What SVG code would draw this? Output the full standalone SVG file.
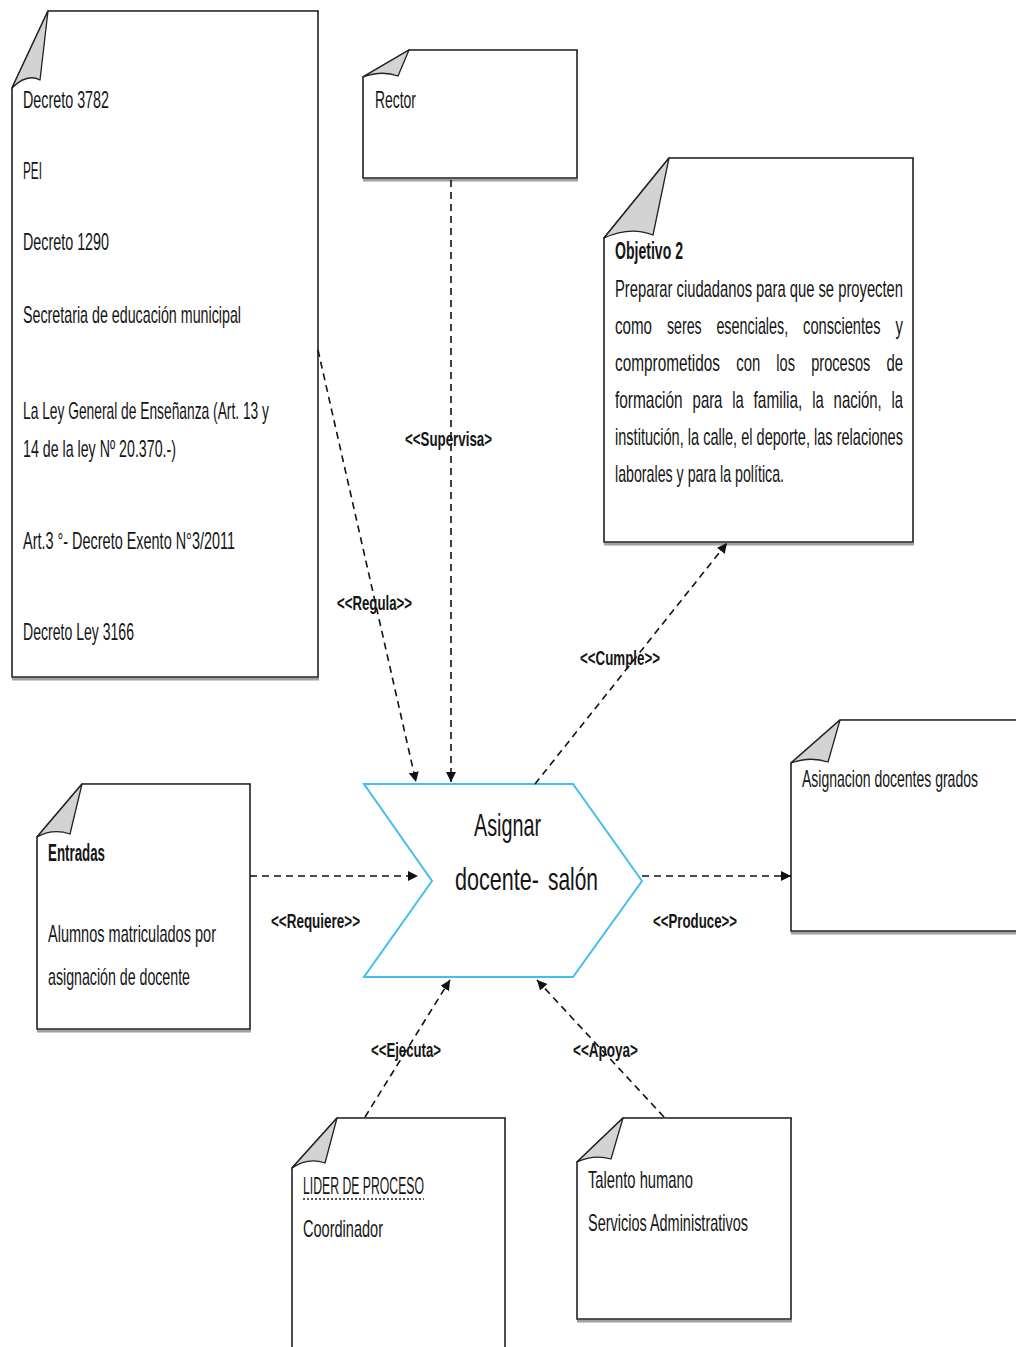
<svg xmlns="http://www.w3.org/2000/svg" width="1016" height="1347" viewBox="0 0 1016 1347">
  <style>
    .doc { fill: #ffffff; stroke: #222222; stroke-width: 1.6; }
    .sh { fill: none; stroke: #a0a0a0; stroke-width: 3; }
    .fold { fill: #d3d3d3; stroke: #222222; stroke-width: 1.3; stroke-linejoin: round; }
    .t { font-family: "Liberation Sans Narrow", "Liberation Sans", Arial, sans-serif; font-size: 18px; fill: #151515; }
    .b { font-weight: bold; }
    .lbl { font-family: "Liberation Sans Narrow", "Liberation Sans", Arial, sans-serif; font-size: 15px; font-weight: bold; fill: #151515; }
    .big { font-family: "Liberation Sans Narrow", "Liberation Sans", Arial, sans-serif; font-size: 24px; fill: #151515; }
    .con { fill: none; stroke: #111111; stroke-width: 1.6; stroke-dasharray: 7 5; marker-end: url(#arr); }
  </style>
  <defs>
    <marker id="arr" viewBox="0 0 10 10" refX="10" refY="5" markerWidth="10" markerHeight="10" markerUnits="userSpaceOnUse" orient="auto">
      <path d="M0,0 L10,5 L0,10 Z" fill="#111111"/>
    </marker>
  </defs>

  <rect width="1016" height="1347" fill="#ffffff"/>

  <!-- legal references -->
  <g id="node-normas">
    <path class="sh" d="M48,12 L319,12 M12,679 L319,679"/>
    <path class="doc" d="M12,88 L48,11 L318,11 L318,677 L12,677 Z"/>
    <path class="fold" d="M48,11 L40,80 Q27,73 12,88 Z"/>
    <!-- tall condensed lettering: y values are baseline / 1.3 -->
    <g transform="scale(1,1.3)">
      <text class="t" x="23" y="83.08" textLength="86" lengthAdjust="spacingAndGlyphs">Decreto 3782</text>
      <text class="t" x="23" y="137.69" textLength="19" lengthAdjust="spacingAndGlyphs">PEI</text>
      <text class="t" x="23" y="192.31" textLength="86" lengthAdjust="spacingAndGlyphs">Decreto 1290</text>
      <text class="t" x="23" y="248.46" textLength="218" lengthAdjust="spacingAndGlyphs">Secretaria de educación municipal</text>
      <text class="t" x="23" y="322.31" textLength="246" lengthAdjust="spacingAndGlyphs">La Ley General de Enseñanza (Art. 13 y</text>
      <text class="t" x="23" y="351.54" textLength="153" lengthAdjust="spacingAndGlyphs">14 de la ley Nº 20.370.-)</text>
      <text class="t" x="23" y="422.31" textLength="212" lengthAdjust="spacingAndGlyphs">Art.3 °- Decreto Exento N°3/2011</text>
      <text class="t" x="23" y="492.31" textLength="111" lengthAdjust="spacingAndGlyphs">Decreto Ley 3166</text>
    </g>
  </g>

  <!-- supervisor -->
  <g id="node-rector">
    <path class="sh" d="M409,51 L578,51 M363,180 L578,180"/>
    <path class="doc" d="M363,77 L409,50 L577,50 L577,178 L363,178 Z"/>
    <path class="fold" d="M409,50 L398,76 Q382,70 363,77 Z"/>
    <g transform="scale(1,1.3)">
      <text class="t" x="375" y="83.08" textLength="41" lengthAdjust="spacingAndGlyphs">Rector</text>
    </g>
  </g>

  <!-- objective -->
  <g id="node-objetivo">
    <path class="sh" d="M669,159 L914,159 M604,544 L914,544"/>
    <path class="doc" d="M604,238 L669,158 L913,158 L913,542 L604,542 Z"/>
    <path class="fold" d="M669,158 L653,235 Q630,226 604,238 Z"/>
    <g transform="scale(1,1.3)">
      <text class="t b" x="615" y="199.23" textLength="68" lengthAdjust="spacingAndGlyphs">Objetivo 2</text>
      <text class="t" x="615" y="228.46" textLength="288" lengthAdjust="spacingAndGlyphs">Preparar ciudadanos para que se proyecten</text>
      <!-- justified lines: one text per word -->
      <text class="t" x="615" y="256.92" textLength="37" lengthAdjust="spacingAndGlyphs">como</text>
      <text class="t" x="667" y="256.92" textLength="34.6" lengthAdjust="spacingAndGlyphs">seres</text>
      <text class="t" x="716.4" y="256.92" textLength="71.8" lengthAdjust="spacingAndGlyphs">esenciales,</text>
      <text class="t" x="803.1" y="256.92" textLength="77.5" lengthAdjust="spacingAndGlyphs">conscientes</text>
      <text class="t" x="895.5" y="256.92" textLength="7.4" lengthAdjust="spacingAndGlyphs">y</text>
      <text class="t" x="615" y="285.38" textLength="105" lengthAdjust="spacingAndGlyphs">comprometidos</text>
      <text class="t" x="736.2" y="285.38" textLength="24" lengthAdjust="spacingAndGlyphs">con</text>
      <text class="t" x="776.3" y="285.38" textLength="18.7" lengthAdjust="spacingAndGlyphs">los</text>
      <text class="t" x="811.2" y="285.38" textLength="59.1" lengthAdjust="spacingAndGlyphs">procesos</text>
      <text class="t" x="886.4" y="285.38" textLength="16.6" lengthAdjust="spacingAndGlyphs">de</text>
      <text class="t" x="615" y="313.85" textLength="67.7" lengthAdjust="spacingAndGlyphs">formación</text>
      <text class="t" x="692.6" y="313.85" textLength="29.8" lengthAdjust="spacingAndGlyphs">para</text>
      <text class="t" x="732.2" y="313.85" textLength="11.5" lengthAdjust="spacingAndGlyphs">la</text>
      <text class="t" x="753.6" y="313.85" textLength="48.8" lengthAdjust="spacingAndGlyphs">familia,</text>
      <text class="t" x="812.3" y="313.85" textLength="11.5" lengthAdjust="spacingAndGlyphs">la</text>
      <text class="t" x="833.6" y="313.85" textLength="48.1" lengthAdjust="spacingAndGlyphs">nación,</text>
      <text class="t" x="891.5" y="313.85" textLength="11.5" lengthAdjust="spacingAndGlyphs">la</text>
      <text class="t" x="615" y="342.31" textLength="288" lengthAdjust="spacingAndGlyphs">institución, la calle, el deporte, las relaciones</text>
      <text class="t" x="615" y="370.77" textLength="169" lengthAdjust="spacingAndGlyphs">laborales y para la política.</text>
    </g>
  </g>

  <!-- process -->
  <g id="node-proceso">
    <line x1="364" y1="785" x2="573" y2="785" stroke="#8fdaf7" stroke-width="4"/>
    <path d="M364,784 L573,784 L642,881 L573,977 L364,977 L432,881 Z" fill="#ffffff" stroke="#45bdee" stroke-width="2"/>
    <g transform="scale(1,1.3)">
      <text class="big" x="474" y="643.08" textLength="67" lengthAdjust="spacingAndGlyphs">Asignar</text>
      <text class="big" x="455" y="684.62" textLength="84" lengthAdjust="spacingAndGlyphs">docente-</text>
      <text class="big" x="548" y="684.62" textLength="50" lengthAdjust="spacingAndGlyphs">salón</text>
    </g>
  </g>

  <!-- inputs -->
  <g id="node-entradas">
    <path class="sh" d="M82,785 L251,785 M37,1031 L251,1031"/>
    <path class="doc" d="M37,837 L82,784 L250,784 L250,1029 L37,1029 Z"/>
    <path class="fold" d="M82,784 L70,834 Q53,828 37,837 Z"/>
    <g transform="scale(1,1.3)">
      <text class="t b" x="48" y="662.31" textLength="57" lengthAdjust="spacingAndGlyphs">Entradas</text>
      <text class="t" x="48" y="724.62" textLength="168" lengthAdjust="spacingAndGlyphs">Alumnos matriculados por</text>
      <text class="t" x="48" y="757.69" textLength="142" lengthAdjust="spacingAndGlyphs">asignación de docente</text>
    </g>
  </g>

  <!-- output -->
  <g id="node-salida">
    <path class="sh" d="M840,721 L1020,721 M791,933 L1020,933"/>
    <path class="doc" d="M791,763 L840,720 L1020,720 L1020,931 L791,931 Z"/>
    <path class="fold" d="M840,720 L828,762 Q810,756 791,763 Z"/>
    <g transform="scale(1,1.3)">
      <text class="t" x="802" y="605.38" textLength="176" lengthAdjust="spacingAndGlyphs">Asignacion docentes grados</text>
    </g>
  </g>

  <!-- process owner -->
  <g id="node-lider">
    <path class="sh" d="M337,1119 L506,1119"/>
    <path class="doc" d="M292,1168 L337,1118 L505,1118 L505,1352 L292,1352 Z"/>
    <path class="fold" d="M337,1118 L325,1163 Q308,1157 292,1168 Z"/>
    <g transform="scale(1,1.3)">
      <text class="t" x="303" y="918.46" textLength="121" lengthAdjust="spacingAndGlyphs">LIDER DE PROCESO</text>
      <text class="t" x="303" y="951.54" textLength="80" lengthAdjust="spacingAndGlyphs">Coordinador</text>
    </g>
    <line x1="303" y1="1199" x2="424" y2="1199" stroke="#222222" stroke-width="1.6" stroke-dasharray="2 2"/>
  </g>

  <!-- support -->
  <g id="node-apoyo">
    <path class="sh" d="M623,1119 L792,1119 M577,1321 L792,1321"/>
    <path class="doc" d="M577,1162 L623,1118 L791,1118 L791,1319 L577,1319 Z"/>
    <path class="fold" d="M623,1118 L611,1159 Q594,1154 577,1162 Z"/>
    <g transform="scale(1,1.3)">
      <text class="t" x="588" y="913.85" textLength="105" lengthAdjust="spacingAndGlyphs">Talento humano</text>
      <text class="t" x="588" y="946.92" textLength="160" lengthAdjust="spacingAndGlyphs">Servicios Administrativos</text>
    </g>
  </g>

  <!-- dependencies -->
  <g id="connectors">
    <path class="con" d="M318,350 L416,782"/>
    <path class="con" d="M451,180 L451,782"/>
    <path class="con" d="M535,784 L727,543"/>
    <path class="con" d="M250,876 L418,876"/>
    <path class="con" d="M642,876 L791,876"/>
    <path class="con" d="M365,1117 L450,980"/>
    <path class="con" d="M664,1117 L537,980"/>
    <g transform="scale(1,1.3)">
      <text class="lbl" x="337" y="469.23" textLength="75" lengthAdjust="spacingAndGlyphs">&lt;&lt;Regula&gt;&gt;</text>
      <text class="lbl" x="405" y="343.08" textLength="87" lengthAdjust="spacingAndGlyphs">&lt;&lt;Supervisa&gt;</text>
      <text class="lbl" x="580" y="511.54" textLength="80" lengthAdjust="spacingAndGlyphs">&lt;&lt;Cumple&gt;&gt;</text>
      <text class="lbl" x="271" y="713.85" textLength="89" lengthAdjust="spacingAndGlyphs">&lt;&lt;Requiere&gt;&gt;</text>
      <text class="lbl" x="653" y="713.85" textLength="84" lengthAdjust="spacingAndGlyphs">&lt;&lt;Produce&gt;&gt;</text>
      <text class="lbl" x="371" y="813.08" textLength="70" lengthAdjust="spacingAndGlyphs">&lt;&lt;Ejecuta&gt;</text>
      <text class="lbl" x="573" y="813.08" textLength="65" lengthAdjust="spacingAndGlyphs">&lt;&lt;Apoya&gt;</text>
    </g>
  </g>
</svg>
